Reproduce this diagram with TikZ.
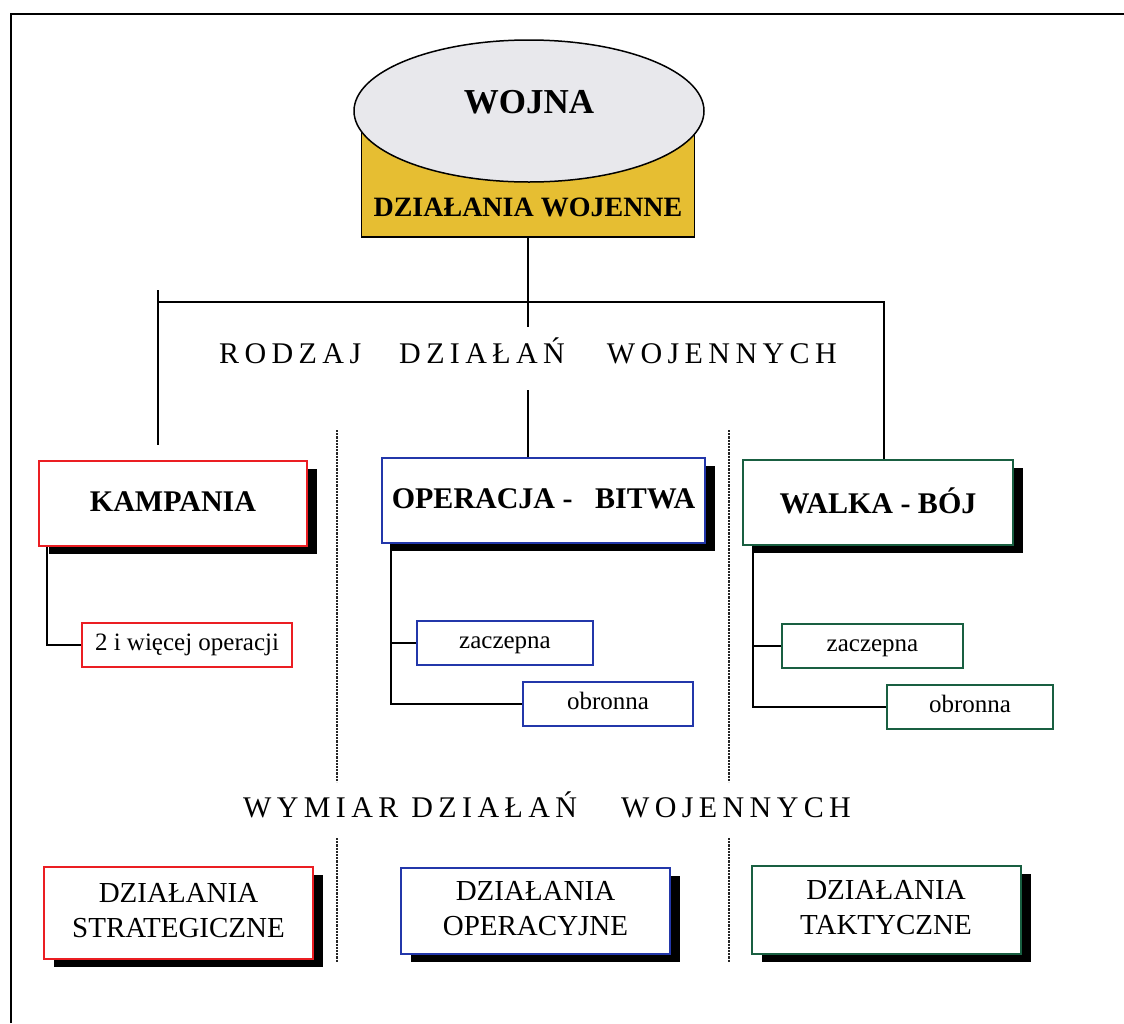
\documentclass[tikz,border=0pt]{standalone}
\usepackage{fontspec}
\setmainfont{Liberation Serif}
\newfontfamily\spaced[LetterSpace=18]{Liberation Serif}
\usetikzlibrary{shapes.geometric,shadows}
\definecolor{kred}{RGB}{235,30,35}
\definecolor{kblue}{RGB}{35,55,170}
\definecolor{kgreen}{RGB}{25,95,65}
\definecolor{kyellow}{RGB}{230,190,50}
\definecolor{kgray}{RGB}{232,232,236}

\begin{document}
\begin{tikzpicture}[x=1pt,y=-1pt,
    shadowed/.style={drop shadow={shadow xshift=10pt,shadow yshift=-8pt,fill=black,opacity=1}},
    mainbox/.style={draw=#1,line width=2pt,fill=white,shadowed,inner sep=0pt,minimum height=85pt,text depth=3pt,font=\fontsize{30}{36}\bfseries\selectfont},
    subbox/.style={draw=#1,line width=2pt,fill=white,inner sep=0pt,minimum height=44pt,text height=11pt,text depth=0pt,font=\fontsize{25}{30}\selectfont},
    levelbox/.style={draw=#1,line width=2pt,fill=white,shadowed,inner sep=0pt,minimum width=269pt,align=center,text depth=6pt,font=\fontsize{29}{35}\selectfont},
    spacedtext/.style={inner sep=0pt,font=\fontsize{30}{36}\spaced},
    conn/.style={line width=2pt},
    divider/.style={line width=2.2pt,densely dotted,black!85}]
\useasboundingbox (0,0) rectangle (1124,1023);
\draw[line width=2.5pt] (11,1023) -- (11,14) -- (1124,14);

% gora: wojna i dzialania wojenne
\node[draw,line width=1.5pt,fill=kyellow,minimum width=333pt,minimum height=109pt] (dzialania) at (528,182.5) {};
\node[ellipse,draw,line width=1.5pt,fill=kgray,minimum width=350pt,minimum height=142pt,text depth=18pt,font=\fontsize{35}{40}\bfseries\selectfont] (wojna) at (529,111) {WOJNA};
\node[inner sep=0pt,font=\fontsize{28}{32}\bfseries\selectfont] (dwlabel) at ([yshift=30pt]dzialania.south) {DZIAŁANIA WOJENNE};

\node[spacedtext] (rodzaj) at (528,351) {RODZAJ\hspace{38pt}DZIAŁAŃ\hspace{42pt}WOJENNYCH};
\node[spacedtext] (wymiar) at (547,805) {WYMIAR\hspace{13pt}DZIAŁAŃ\hspace{44pt}WOJENNYCH};

% rodzaje
\node[mainbox=kred,minimum width=268pt] (kampania) at (173,503) {KAMPANIA};
\node[mainbox=kblue,minimum width=323pt] (operacja) at (543.5,500.5) {OPERACJA -\hspace{0.75em}BITWA};
\node[mainbox=kgreen,minimum width=270pt] (walka) at (878,502) {WALKA - BÓJ};

\node[subbox=kred,minimum width=210pt] (wiecej) at (187,645) {2 i więcej operacji};
\node[subbox=kblue,minimum width=176pt] (opzaczepna) at (505,643) {zaczepna};
\node[subbox=kblue,minimum width=170pt] (opobronna) at (608,704) {obronna};
\node[subbox=kgreen,minimum width=181pt] (wbzaczepna) at (872.5,645.5) {zaczepna};
\node[subbox=kgreen,minimum width=166pt] (wbobronna) at (970,706.5) {obronna};

% wymiar
\node[levelbox=kred,minimum height=92pt] (strategiczne) at (178.5,913) {DZIAŁANIA\\STRATEGICZNE};
\node[levelbox=kblue,minimum height=86pt] (operacyjne) at (535.5,911) {DZIAŁANIA\\OPERACYJNE};
\node[levelbox=kgreen,minimum height=88pt] (taktyczne) at (886,910) {DZIAŁANIA\\TAKTYCZNE};

\draw[divider] (337,430) -- (337,782);
\draw[divider] (337,838) -- (337,962);
\draw[divider] (729,430) -- (729,782);
\draw[divider] (729,838) -- (729,962);

\coordinate (midtop) at (528,327);
\coordinate (midbot) at (528,390);
\coordinate (barL) at (158,302);
\coordinate (barR) at (884,302);
\coordinate (kamptop) at (158,290);
\coordinate (kampend) at (158,445);
\draw[conn] (dzialania.south) -- (midtop);
\draw[conn] (midbot) -- (midbot |- operacja.north);
\draw[conn] (kamptop) -- (kampend);
\draw[conn] (barL) -- (barR) -- (barR |- walka.north);

\draw[conn] ([xshift=9pt]kampania.south west) |- (wiecej.west);
\draw[conn] ([xshift=10pt]operacja.south west) |- (opzaczepna.west);
\draw[conn] ([xshift=10pt]operacja.south west) |- (opobronna.west);
\draw[conn] ([xshift=11pt]walka.south west) |- (wbzaczepna.west);
\draw[conn] ([xshift=11pt]walka.south west) |- (wbobronna.west);
\end{tikzpicture}
\end{document}
